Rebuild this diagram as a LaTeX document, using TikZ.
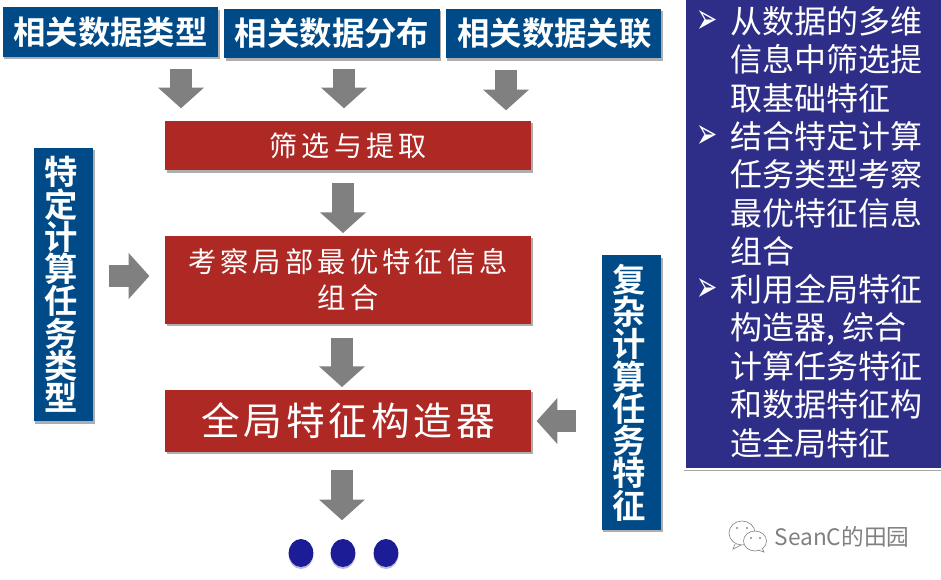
\documentclass[tikz,border=0pt]{standalone}
\usepackage{fontspec}
\usepackage{xcolor}
\usepackage{graphicx}
\usetikzlibrary{shapes.geometric, arrows.meta, positioning, calc, shadows}
\setmainfont{Liberation Sans}
\newfontfamily\cjk[BoldFont=Noto Sans CJK SC Bold]{Noto Sans CJK SC}
\newfontfamily\cjkwide[LetterSpace=14.5]{Noto Sans CJK SC}
\newfontfamily\cjkwider[LetterSpace=10]{Noto Sans CJK SC}
\newfontfamily\dingfont{DejaVu Sans}
\definecolor{hdblue}{HTML}{004B87}
\definecolor{stepred}{HTML}{AE2824}
\definecolor{panelblue}{HTML}{2E2D88}
\definecolor{dotblue}{HTML}{1C1C96}
\definecolor{arrgray}{HTML}{808080}

\begin{document}
\begin{tikzpicture}[
  x=0.75pt, y=-0.75pt,
  softshadow/.style={drop shadow={opacity=0.45, shadow xshift=1.2pt, shadow yshift=-1.8pt, fill=black!70}},
  hd/.style={
    rectangle, fill=hdblue, softshadow, text=white,
    minimum width=161.5pt, minimum height=37pt, inner sep=0pt,
    font=\cjk\bfseries\fontsize{24.3}{24.3}\selectfont
  },
  sidebox/.style={
    rectangle, fill=hdblue, softshadow, text=white,
    minimum width=44.5pt, inner sep=0pt, align=center,
    font=\cjk\bfseries\fontsize{25}{24.2}\selectfont
  },
  stepbox/.style={
    rectangle, fill=stepred, softshadow, text=white,
    minimum width=274.5pt, inner sep=0pt, align=center
  },
  item/.style={
    anchor=north west, inner sep=0pt, text=white, align=left,
    font=\cjk\fontsize{24}{28.8}\selectfont
  },
  bullet/.style={
    inner sep=0pt, text=white, font=\dingfont\fontsize{19}{19}\selectfont
  },
  dotn/.style={
    ellipse, fill=dotblue, minimum width=18.5pt, minimum height=21pt, inner sep=0pt,
    drop shadow={opacity=0.3, shadow xshift=0pt, shadow yshift=-1.5pt, fill=dotblue}
  },
  blockarr/.style={
    draw=arrgray, line width=17pt,
    -{Triangle[width=33.5pt, length=15.5pt, fill=arrgray]}
  }
]
\useasboundingbox (0,0) rectangle (941,579);

% top boxes
\node[hd] (kind) at (110.5, 32) {相关数据类型};
\node[hd] (dist) at (332, 33.5) {相关数据分布};
\node[hd] (link) at (553.5, 33.5) {\hspace{1.5pt}相关数据关联};

% steps
\node[stepbox, minimum height=37pt, font=\cjkwide\fontsize{21}{21}\selectfont] (filter) at (348, 145.5) {筛选与提取};
\node[stepbox, minimum height=66pt, font=\cjkwide\fontsize{21.2}{27}\selectfont] (local) at (348, 280) {考察局部最优特征信息\\组合};
\node[stepbox, minimum height=46.5pt, font=\cjkwider\fontsize{29}{29}\selectfont] (global) at (348, 421) {全局特征构造器};

% side boxes
\node[sidebox, minimum height=205pt] (task) at (63.5, 284.5) {\hspace{-3pt}特\\\hspace{-3pt}定\\\hspace{-3pt}计\\\hspace{-3pt}算\\\hspace{-3pt}任\\\hspace{-3pt}务\\\hspace{-3pt}类\\\hspace{-3pt}型};
\node[sidebox, minimum height=206pt] (cplx) at (631.5, 392.5) {\hspace{-3pt}复\\\hspace{-3pt}杂\\\hspace{-3pt}计\\\hspace{-3pt}算\\\hspace{-3pt}任\\\hspace{-3pt}务\\\hspace{-3pt}特\\\hspace{-3pt}征};

% panel
\node[rectangle, draw=white, line width=1.6pt, fill=panelblue,
  drop shadow={opacity=0.5, shadow xshift=-0.8pt, shadow yshift=-1.6pt, fill=black!70},
  minimum width=260pt, minimum height=354pt, anchor=north west, inner sep=0pt] (panel) at (684, -4) {};
\node[item] (one) at (730, 6) {从数据的多维\\信息中筛选提\\取基础特征};
\node[item] (two) at (730, 121) {结合特定计算\\任务类型考察\\最优特征信息\\组合};
\node[item] (three) at (730, 274) {利用全局特征\\构造器, 综合\\计算任务特征\\和数据特征构\\造全局特征};
\node[bullet] (b1) at (707, 22) {\scalebox{1}[1.7]{➢}};
\node[bullet] (b2) at (707, 137) {\scalebox{1}[1.7]{➢}};
\node[bullet] (b3) at (707, 290) {\scalebox{1}[1.7]{➢}};

% arrow columns
\coordinate (c1) at (181, 121);
\coordinate (c2) at (344, 121);
\coordinate (c3) at (506, 121);

\draw[blockarr, shorten <=9pt, shorten >=9.5pt] (c1 |- kind.south) -- (c1);
\draw[blockarr, shorten <=8pt, shorten >=9.5pt] (c2 |- dist.south) -- (c2);
\draw[blockarr, shorten <=9pt, shorten >=8pt] (c3 |- link.south) -- (c3);

\draw[blockarr, shorten <=9.5pt, shorten >=2pt] ($(filter.south)+(-5,0)$) -- ($(local.north)+(-5,0)$);
\draw[blockarr, shorten <=10.5pt, shorten >=2pt] ($(local.south)+(-6,0)$) -- ($(global.north)+(-6,0)$);
\draw[blockarr, shorten <=13pt, shorten >=0pt] ($(global.south)+(-6,0)$) -- ++(0,68);

\draw[blockarr, shorten <=12pt, shorten >=11.5pt] (task.east |- 0,276) -- (local.west |- 0,276);
\draw[blockarr, shorten <=19pt, shorten >=4pt] (cplx.west |- global.east) -- (global.east);

% dots
\node[dotn] (d1) at (301, 553) {};
\node[dotn] (d2) at (343, 553) {};
\node[dotn] (d3) at (386, 553) {};

% watermark
\draw[black!45, line width=0.5pt, fill=white] (742, 533) ellipse (13 and 12);
\draw[black!45, line width=0.5pt] (735, 544) -- (733, 549) -- (741, 545);
\draw[black!45, line width=0.5pt, fill=white] (755, 541) ellipse (11.5 and 10);
\draw[black!45, line width=0.5pt, fill=white] (758, 550) -- (764, 552) -- (762, 548);
\fill[black!45] (737, 528) circle (1.2) (747, 528) circle (1.2) (751, 538) circle (1.2) (760, 538) circle (1.2);
\node[font=\cjk\fontsize{17}{17}\selectfont, text=black!50, inner sep=0pt] (mark) at (842, 537) {SeanC的田园};
\end{tikzpicture}
\end{document}
